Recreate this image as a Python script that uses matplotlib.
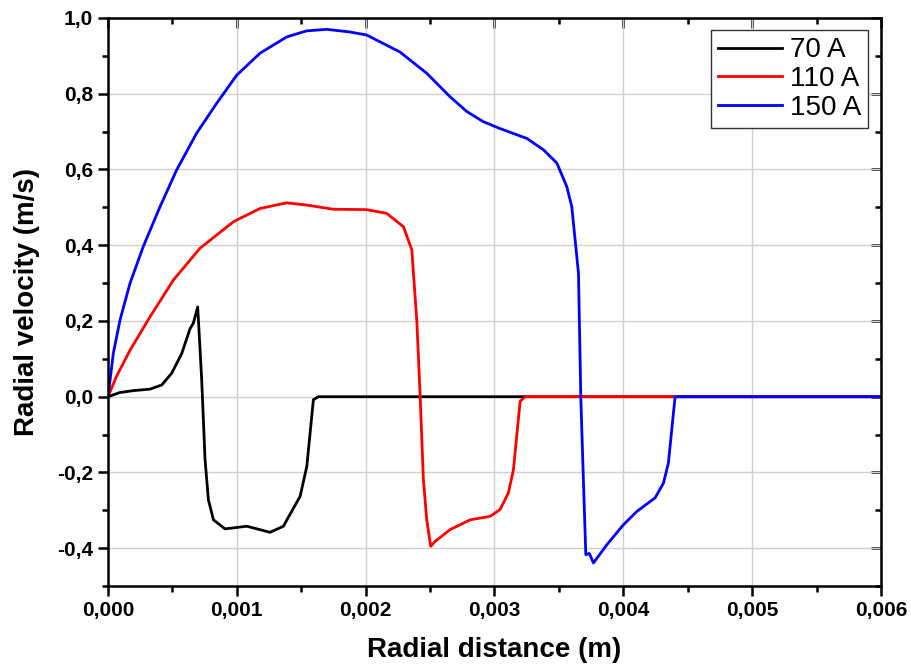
import matplotlib
matplotlib.use("Agg")
import matplotlib.pyplot as plt
from matplotlib.ticker import MultipleLocator, FuncFormatter

plt.rcParams['font.family'] = ['Liberation Sans', 'DejaVu Sans']

# 70 A
x70 = [0, 0.0000906, 0.000194, 0.000326, 0.000417, 0.000494, 0.000572, 0.000637, 0.000662,
       0.000696, 0.000727, 0.000753, 0.000779, 0.000818, 0.000908, 0.001077, 0.001258,
       0.001361, 0.001491, 0.001543, 0.001594, 0.001633, 0.006]
y70 = [0, 0.011, 0.016, 0.020, 0.031, 0.062, 0.114, 0.180, 0.194,
       0.237, 0.045, -0.166, -0.272, -0.325, -0.349, -0.342, -0.358,
       -0.342, -0.263, -0.184, -0.008, 0, 0]

# 110 A
x110 = [0, 0.0000647, 0.000171, 0.000326, 0.000507, 0.000714, 0.000973, 0.00118, 0.001387,
        0.001542, 0.001749, 0.002008, 0.002163, 0.002293, 0.002358, 0.002397,
        0.002422, 0.002448, 0.002474, 0.002505, 0.002539, 0.002655, 0.002811, 0.002966,
        0.003043, 0.003108, 0.003147, 0.003199, 0.003238, 0.006]
y110 = [0, 0.053, 0.123, 0.211, 0.308, 0.392, 0.462, 0.497, 0.512,
        0.506, 0.495, 0.494, 0.484, 0.449, 0.388, 0.200,
        0.010, -0.219, -0.325, -0.395, -0.382, -0.351, -0.325, -0.316,
        -0.298, -0.254, -0.193, -0.012, 0, 0]

# 150 A
x150 = [0, 0.0000412, 0.0000932, 0.000171, 0.000274, 0.000404, 0.000533, 0.000688, 0.000844,
        0.000999, 0.00118, 0.001387, 0.001542, 0.001698, 0.001879, 0.002008, 0.002267,
        0.002474, 0.002655, 0.002785, 0.002914, 0.003043, 0.003251, 0.00338, 0.003484,
        0.003561, 0.0036, 0.003652, 0.00367, 0.00369, 0.003709, 0.003737,
        0.003768, 0.003872, 0.004001, 0.004105, 0.004247, 0.004312, 0.00435, 0.004402, 0.006]
y150 = [0, 0.115, 0.203, 0.300, 0.397, 0.502, 0.599, 0.696, 0.775,
        0.849, 0.907, 0.950, 0.966, 0.970, 0.963, 0.955, 0.910,
        0.854, 0.792, 0.753, 0.726, 0.708, 0.682, 0.652, 0.617,
        0.555, 0.502, 0.326, 0.0, -0.219, -0.417, -0.414,
        -0.439, -0.391, -0.338, -0.303, -0.267, -0.228, -0.175, 0, 0]

fig = plt.figure(figsize=(9.11, 6.66), dpi=100)
ax = fig.add_axes([0.1186, 0.12, 0.8484, 0.853])

ax.plot(x70, y70, color='black', lw=2.0, label='70 A')
ax.plot(x110, y110, color='red', lw=2.0, label='110 A')
ax.plot(x150, y150, color='blue', lw=2.0, label='150 A')

ax.set_xlim(0, 0.006)
ax.set_ylim(-0.5, 1.0)
ax.xaxis.set_major_locator(MultipleLocator(0.001))
ax.xaxis.set_minor_locator(MultipleLocator(0.0005))
ax.yaxis.set_major_locator(MultipleLocator(0.2))
ax.yaxis.set_minor_locator(MultipleLocator(0.1))
ax.xaxis.set_major_formatter(FuncFormatter(lambda v, p: f"{v:.3f}".replace('.', ',')))
ax.yaxis.set_major_formatter(FuncFormatter(
    lambda v, p: "" if v < -0.45 else f"{v:.1f}".replace('.', ',').replace('-0,0', '0,0')))
ax.grid(True, which='major', color='#d0d0d0', lw=1)
ax.set_axisbelow(True)

for s in ax.spines.values():
    s.set_linewidth(1.8)
ax.tick_params(which='major', direction='out', length=7, width=1.8, labelsize=15, pad=4)
ax.tick_params(which='minor', direction='out', length=4, width=1.8)
for lab in ax.get_xticklabels() + ax.get_yticklabels():
    lab.set_fontweight('bold')

top = ax.secondary_xaxis('top')
top.xaxis.set_major_locator(MultipleLocator(0.001))
top.xaxis.set_minor_locator(MultipleLocator(0.0005))
top.tick_params(which='major', direction='in', length=7, width=1.8, labeltop=False)
top.tick_params(which='minor', direction='in', length=4, width=1.8)
right = ax.secondary_yaxis('right')
right.yaxis.set_major_locator(MultipleLocator(0.2))
right.yaxis.set_minor_locator(MultipleLocator(0.1))
right.tick_params(which='major', direction='in', length=7, width=1.8, labelright=False)
right.tick_params(which='minor', direction='in', length=4, width=1.8)

ax.set_xlabel('Radial distance (m)', fontsize=20, fontweight='bold', labelpad=12)
ax.set_ylabel('Radial velocity (m/s)', fontsize=20, fontweight='bold', labelpad=12)

leg = ax.legend(loc='upper right', fontsize=20, fancybox=False, framealpha=1,
                edgecolor='#333333', handlelength=2.3, labelspacing=0.1,
                borderaxespad=0.45, handletextpad=0.3, borderpad=0.25)
leg.get_frame().set_linewidth(1.0)

fig.savefig('out.png', dpi=100)
